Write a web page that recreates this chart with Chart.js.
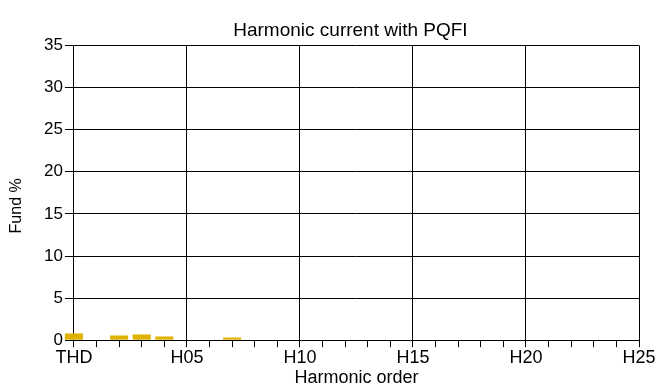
<!DOCTYPE html>
<html>
<head>
<meta charset="utf-8">
<script src="https://cdn.jsdelivr.net/npm/chart.js@4/dist/chart.umd.min.js"></script>
<style>
  html, body { margin: 0; padding: 0; background: #fff; }
  #wrap { width: 657px; height: 387px; position: relative; }
</style>
</head>
<body>
<div id="wrap"><canvas id="c" width="657" height="387"></canvas></div>
<script>
const chartTitle = "Harmonic current with PQFI";
const xAxisTitle = "Harmonic order";
const yAxisTitle = "Fund %";
const categories = ["THD","H01","H02","H03","H04","H05","H06","H07","H08","H09","H10",
  "H11","H12","H13","H14","H15","H16","H17","H18","H19","H20","H21","H22","H23","H24","H25"];
const currentValues = [0.8, null, 0.56, 0.68, 0.44, 0, 0, 0.32, 0, 0, 0,
  0, 0, 0, 0, 0, 0, 0, 0, 0, 0, 0, 0, 0, 0, 0];
const yTicks = [0, 5, 10, 15, 20, 25, 30, 35];

const FONT = "'Liberation Sans', Arial, Helvetica, sans-serif";

const textPlugin = {
  id: 'titles',
  afterDraw(chart) {
    const ctx = chart.ctx;
    const ca = chart.chartArea;
    ctx.save();
    ctx.fillStyle = '#000';
    // chart title
    ctx.font = "19px " + FONT;
    ctx.textAlign = 'center';
    ctx.textBaseline = 'alphabetic';
    ctx.fillText(chartTitle, (ca.left + ca.right) / 2 - 6, ca.top - 9.5);
    // y axis title
    ctx.font = "16px " + FONT;
    ctx.translate(17, (ca.top + ca.bottom) / 2 + 13);
    ctx.rotate(-Math.PI / 2);
    ctx.textBaseline = 'middle';
    ctx.fillText(yAxisTitle, 0, 0);
    ctx.restore();
  }
};

new Chart(document.getElementById('c'), {
  type: 'bar',
  data: {
    labels: categories,
    datasets: [{
      data: currentValues,
      backgroundColor: '#E0B200',
      borderWidth: 0,
      barPercentage: 0.8,
      categoryPercentage: 1.0,
      clip: false
    }]
  },
  plugins: [textPlugin],
  options: {
    responsive: false,
    animation: false,
    devicePixelRatio: 1,
    layout: { padding: { left: 42, right: 18, top: 45.5, bottom: 0 } },
    plugins: {
      legend: { display: false },
      tooltip: { enabled: false },
      title: { display: false }
    },
    scales: {
      x: {
        type: 'category',
        offset: false,
        grid: {
          display: true,
          offset: false,
          color: (ctx) => (ctx.index % 5 === 0 ? '#000' : 'rgba(0,0,0,0)'),
          tickColor: '#000',
          tickLength: 7,
          lineWidth: 1
        },
        border: { display: true, color: '#000', width: 1 },
        ticks: {
          autoSkip: false,
          maxRotation: 0,
          minRotation: 0,
          padding: 1,
          color: '#000',
          font: { family: FONT, size: 18, lineHeight: 1.1 },
          callback: function(value, index) {
            return index % 5 === 0 ? categories[index] : '';
          }
        },
        title: {
          display: true,
          text: xAxisTitle,
          color: '#000',
          font: { family: FONT, size: 18, lineHeight: 1.0 },
          padding: { top: 0, bottom: 0 }
        }
      },
      y: {
        min: yTicks[0],
        max: yTicks[yTicks.length - 1],
        grid: {
          display: true,
          color: '#000',
          tickColor: '#000',
          tickLength: 9,
          lineWidth: 1
        },
        border: { display: true, color: '#000', width: 1 },
        ticks: {
          stepSize: yTicks[1] - yTicks[0],
          padding: 2,
          color: '#000',
          font: { family: FONT, size: 17 }
        },
        afterBuildTicks: (axis) => { axis.ticks = yTicks.map(v => ({ value: v })); },
        title: { display: false }
      }
    }
  }
});
</script>
</body>
</html>
